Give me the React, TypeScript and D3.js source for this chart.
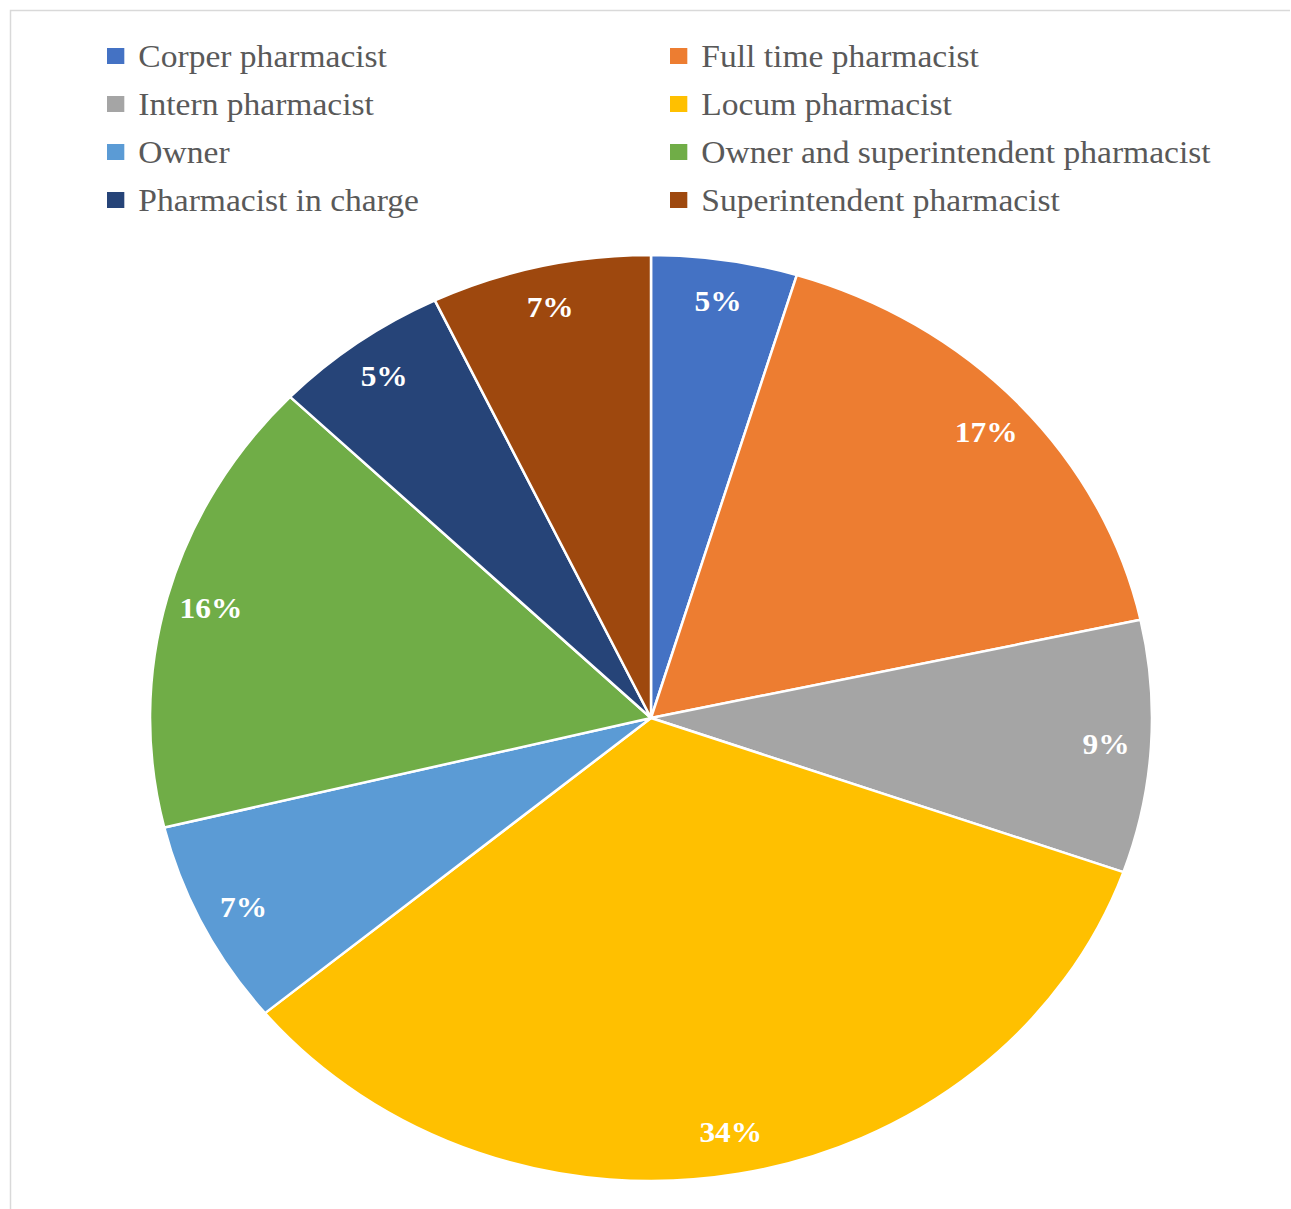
import * as d3 from 'd3';
import React from 'react';

const categories = [
  'Corper pharmacist',
  'Full time pharmacist',
  'Intern pharmacist',
  'Locum pharmacist',
  'Owner',
  'Owner and superintendent pharmacist',
  'Pharmacist in charge',
  'Superintendent pharmacist',
];
const values = [4.7, 16.9, 8.8, 33.6, 7.2, 16.0, 5.7, 7.1];
const labels = ['5%', '17%', '9%', '34%', '7%', '16%', '5%', '7%'];
const colors = ['#4472C4', '#ED7D31', '#A5A5A5', '#FFC000', '#5B9BD5', '#70AD47', '#264478', '#9E480E'];

const width = 1291;
const height = 1209;
const sx = 1.082; // the picture is stretched a bit horizontally
const cx = 651 / sx;
const cy = 718;
const radius = 463;

const App = () => {
  const pie = d3
    .pie<number>()
    .sort(null)
    .value((d) => d);
  const arcs = pie(values);
  const arc = d3.arc<d3.PieArcDatum<number>>().innerRadius(0).outerRadius(radius);
  const labelArc = d3
    .arc<d3.PieArcDatum<number>>()
    .innerRadius(radius * 0.91)
    .outerRadius(radius * 0.91);

  // legend in two columns, rows top to bottom
  const legendRow = d3.scaleLinear().domain([0, 3]).range([56, 200]);
  const legendCol = [107 / sx, 670 / sx];

  return (
    <svg width={width} height={height} style={{ position: 'absolute', left: 0, top: 0 }}>
      <rect width={width} height={height} fill="#fff" />
      <path d={`M10.5,${height} V10.5 H1290`} fill="none" stroke="#d9d9d9" strokeWidth={1.5} />
      <g transform={`scale(${sx},1)`}>
        <g transform={`translate(${cx},${cy})`}>
          {arcs.map((a, i) => (
            <path
              key={i}
              d={arc(a) as string}
              fill={colors[i]}
              stroke="#fff"
              strokeWidth={2.5}
              strokeLinejoin="round"
              vectorEffect="non-scaling-stroke"
            />
          ))}
          {arcs.map((a, i) => {
            const [x, y] = labelArc.centroid(a);
            return (
              <text
                key={i}
                x={x}
                y={y}
                textAnchor="middle"
                dominantBaseline="central"
                fill="#fff"
                fontFamily="'Liberation Serif', 'Times New Roman', serif"
                fontWeight="bold"
                fontSize={29}
              >
                {labels[i]}
              </text>
            );
          })}
        </g>
        <g>
          {categories.map((c, i) => {
            const col = i % 2;
            const row = Math.floor(i / 2);
            const y = legendRow(row);
            return (
              <g key={c} transform={`translate(${legendCol[col]},${y})`}>
                <rect x={0} y={-8} width={16} height={16} fill={colors[i]} />
                <text
                  x={29}
                  y={0}
                  dominantBaseline="central"
                  fill="#595959"
                  fontFamily="'Liberation Serif', 'Times New Roman', serif"
                  fontSize={31}
                >
                  {c}
                </text>
              </g>
            );
          })}
        </g>
      </g>
    </svg>
  );
};

export default App;
